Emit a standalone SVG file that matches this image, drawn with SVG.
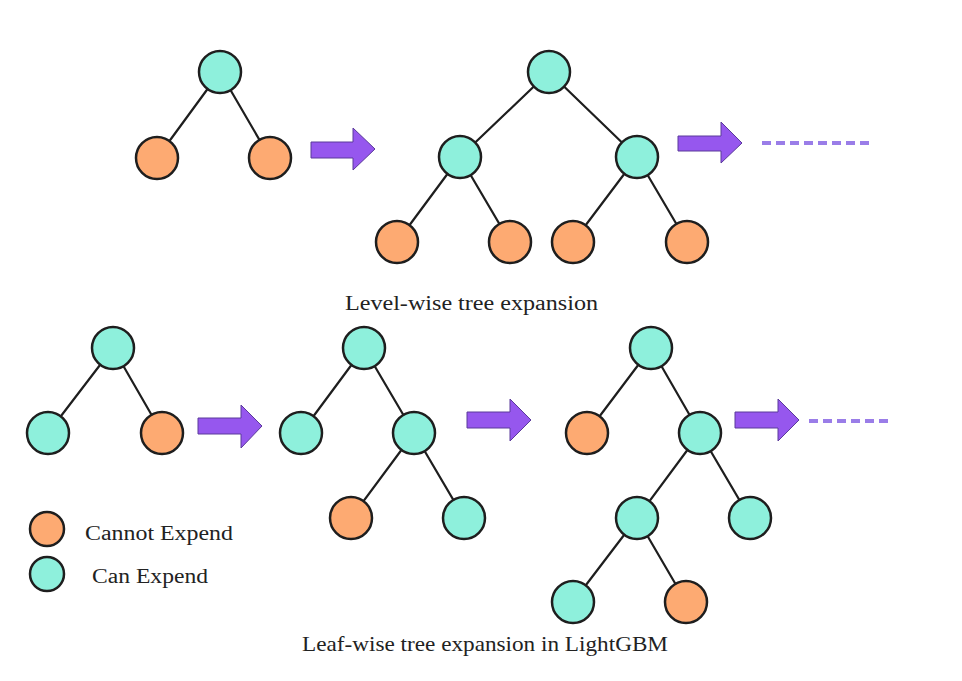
<svg xmlns="http://www.w3.org/2000/svg" width="962" height="681" viewBox="0 0 962 681">
<style>
.t{fill:#8ef0dc;stroke:#1e1e1e;stroke-width:2.5}
.o{fill:#fdaa72;stroke:#1e1e1e;stroke-width:2.5}
.e{stroke:#1e1e1e;stroke-width:2.2;fill:none}
.ar{fill:#9657ee;stroke:#5a3a9a;stroke-width:1}
.d{stroke:#9a7de8;stroke-width:4;stroke-dasharray:9 5;fill:none}
.tx{font-family:"Liberation Serif","Times New Roman",serif;fill:#222}
</style>
<rect width="962" height="681" fill="#ffffff"/>
<g id="connectors">
<path class="e" d="M220,72L157,158M220,72L270,158"/>
<path class="e" d="M549,72L460,157M549,72L637,157M460,157L397,242M460,157L510,242M637,157L573,242M637,157L687,242"/>
<path class="e" d="M113,348L48,433M113,348L162,433"/>
<path class="e" d="M364,348L301,433M364,348L414,433M414,433L351,518M414,433L464,518"/>
<path class="e" d="M651,348L587,433M651,348L700,433M700,433L637,518M700,433L750,518M637,518L573,602M637,518L686,602"/>
</g>
<g id="arrows">
<polygon class="ar" points="311,142 353,142 353,128 375,149 353,170 353,158 311,158"/>
<polygon class="ar" points="678,136 721,136 721,122 742,143 721,163 721,151 678,151"/>
<polygon class="ar" points="198,418 241,418 241,405 262,426 241,448 241,434 198,434"/>
<polygon class="ar" points="467,412 510,412 510,399 531,420 510,441 510,428 467,428"/>
<polygon class="ar" points="735,412 778,412 778,399 799,420 778,441 778,428 735,428"/>
<line class="d" x1="762" y1="143" x2="873" y2="143"/>
<line class="d" x1="809" y1="421" x2="893" y2="421"/>
</g>
<g id="tree1">
<circle id="n1a" class="t" cx="220" cy="72" r="21"/>
<circle id="n1b" class="o" cx="157" cy="158" r="21"/>
<circle id="n1c" class="o" cx="270" cy="158" r="21"/>
</g>
<g id="tree2">
<circle id="n2a" class="t" cx="549" cy="72" r="21"/>
<circle id="n2b" class="t" cx="460" cy="157" r="21"/>
<circle id="n2c" class="t" cx="637" cy="157" r="21"/>
<circle id="n2d" class="o" cx="397" cy="242" r="21"/>
<circle id="n2e" class="o" cx="510" cy="242" r="21"/>
<circle id="n2f" class="o" cx="573" cy="242" r="21"/>
<circle id="n2g" class="o" cx="687" cy="242" r="21"/>
</g>
<g id="tree3">
<circle id="n3a" class="t" cx="113" cy="348" r="21"/>
<circle id="n3b" class="t" cx="48" cy="433" r="21"/>
<circle id="n3c" class="o" cx="162" cy="433" r="21"/>
</g>
<g id="tree4">
<circle id="n4a" class="t" cx="364" cy="348" r="21"/>
<circle id="n4b" class="t" cx="301" cy="433" r="21"/>
<circle id="n4c" class="t" cx="414" cy="433" r="21"/>
<circle id="n4d" class="o" cx="351" cy="518" r="21"/>
<circle id="n4e" class="t" cx="464" cy="518" r="21"/>
</g>
<g id="tree5">
<circle id="n5a" class="t" cx="651" cy="348" r="21"/>
<circle id="n5b" class="o" cx="587" cy="433" r="21"/>
<circle id="n5c" class="t" cx="700" cy="433" r="21"/>
<circle id="n5d" class="t" cx="637" cy="518" r="21"/>
<circle id="n5e" class="t" cx="750" cy="518" r="21"/>
<circle id="n5f" class="t" cx="573" cy="602" r="21"/>
<circle id="n5g" class="o" cx="686" cy="602" r="21"/>
</g>
<g id="legend">
<circle class="o" cx="47" cy="529" r="17"/>
<circle class="t" cx="47" cy="574" r="17"/>
<text class="tx" x="85" y="540" font-size="20" textLength="148" lengthAdjust="spacingAndGlyphs">Cannot Expend</text>
<text class="tx" x="92" y="583" font-size="20" textLength="116" lengthAdjust="spacingAndGlyphs">Can Expend</text>
</g>
<g id="captions">
<text class="tx" x="345" y="310" font-size="20" textLength="253" lengthAdjust="spacingAndGlyphs">Level-wise tree expansion</text>
<text class="tx" x="302" y="651" font-size="21" textLength="366" lengthAdjust="spacingAndGlyphs">Leaf-wise tree expansion in LightGBM</text>
</g>
</svg>
